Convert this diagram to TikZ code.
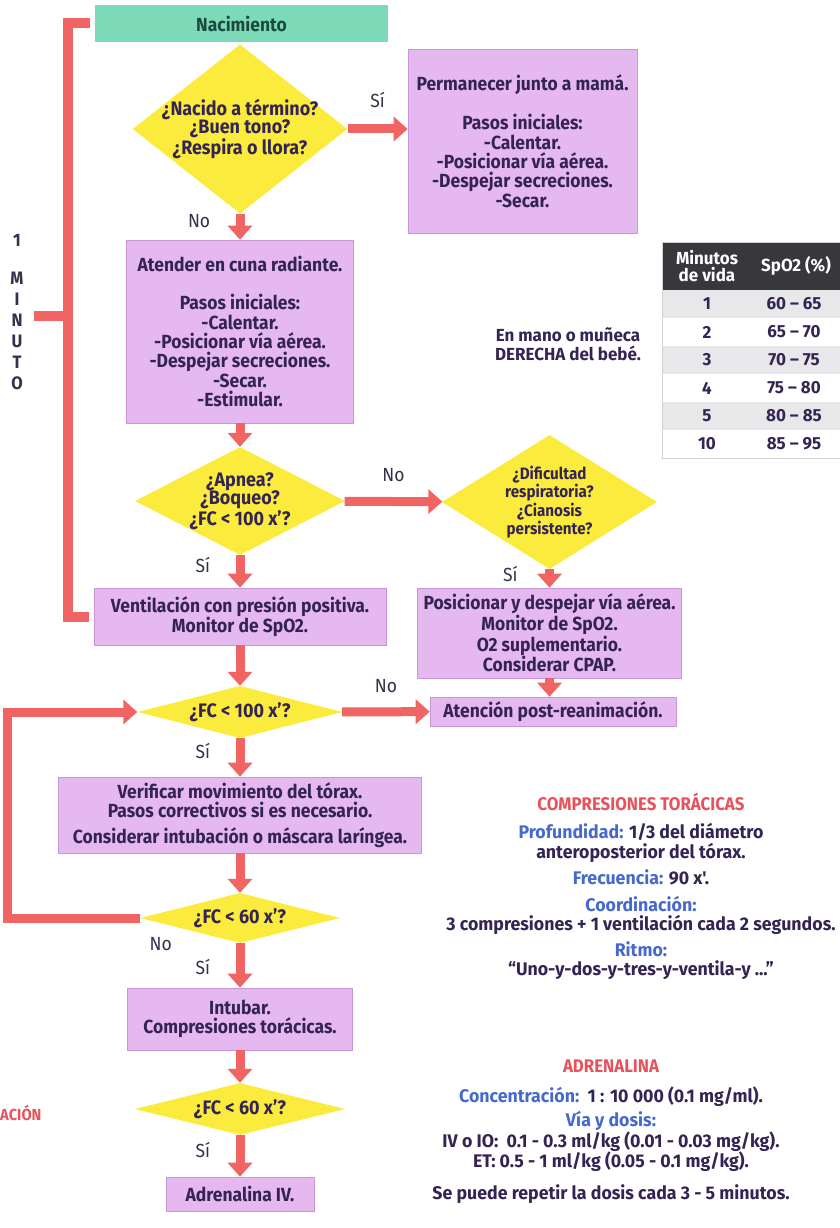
\documentclass[tikz,border=0pt]{standalone}
\usepackage{fontspec}
\setmainfont{Fira Sans}[FakeStretch=0.92]
\newfontfamily\anchafont{Fira Sans}[FakeStretch=0.97]
\usetikzlibrary{shapes.geometric,arrows.meta,positioning}
\definecolor{verde}{RGB}{125,218,185}
\definecolor{verdeosc}{RGB}{25,75,65}
\definecolor{rosa}{RGB}{230,184,240}
\definecolor{borde}{RGB}{200,150,215}
\definecolor{amarillo}{RGB}{250,235,60}
\definecolor{rojo}{RGB}{240,100,100}
\definecolor{tinta}{RGB}{52,36,84}
\definecolor{gris}{RGB}{50,50,75}
\definecolor{azul}{RGB}{70,105,205}
\definecolor{rojotit}{RGB}{232,82,92}
\definecolor{cabeza}{RGB}{55,55,60}
\definecolor{fila}{RGB}{232,232,234}
\newcommand\encabezado[1]{{\rmfamily\bfseries\color{rojotit}#1}}
\newcommand\campo[1]{{\color{azul}#1}}

\begin{document}
\begin{tikzpicture}[x=1pt,y=-1pt,
    caja/.style={rectangle,fill=rosa,draw=borde,line width=0.6pt,text=tinta,align=center,inner sep=0pt,
      font=\bfseries\fontsize{19}{19.3}\selectfont},
    pregunta/.style={diamond,fill=amarillo,text=tinta,align=center,inner sep=-4pt,
      font=\bfseries\fontsize{19.5}{18.5}\selectfont},
    flecha/.style={draw=rojo,line width=9pt,-{Triangle[length=14pt,width=24pt]}},
    etiq/.style={text=gris,font=\mdseries\fontsize{19}{21}\selectfont},
    bajo/.style={etiq,left=22pt,yshift=6pt},
    llave/.style={draw=rojo,line width=10pt},
    info/.style={align=center,text=tinta,font=\anchafont\bfseries\fontsize{18.3}{19.5}\selectfont},
    tabla/.style={text=tinta,align=center,font=\anchafont\bfseries\fontsize{17.5}{17}\selectfont},
  ]
  \fill[white] (0,0) rectangle (840,1228);
  \useasboundingbox (0,0) rectangle (840,1228);

  \node[rectangle,fill=verde,minimum width=293pt,minimum height=37pt,text=verdeosc,
    font=\bfseries\fontsize{19}{21}\selectfont] (nac) at (241.5,23.5) {Nacimiento};
  \node[pregunta,aspect=1.27,minimum width=214pt,minimum height=168pt] (d1) at (240,129)
    {¿Nacido a término?\\¿Buen tono?\\¿Respira o llora?};
  \node[caja,minimum width=229pt,minimum height=184pt] (b2) at (522.5,141)
    {Permanecer junto a mamá.\\[19pt]Pasos iniciales:\\-Calentar.\\-Posicionar vía aérea.\\-Despejar secreciones.\\-Secar.};
  \node[caja,minimum width=227pt,minimum height=183pt] (b3) at (240,331.5)
    {Atender en cuna radiante.\\[19pt]Pasos iniciales:\\-Calentar.\\-Posicionar vía aérea.\\-Despejar secreciones.\\-Secar.\\-Estimular.};
  \node[pregunta,aspect=1.94,minimum width=210pt,minimum height=108pt] (d2) at (240,501)
    {¿Apnea?\\¿Boqueo?\\¿FC < 100 x'?};
  \node[pregunta,aspect=1.6,minimum width=215pt,minimum height=134pt,font=\bfseries\fontsize{16.5}{18.5}\selectfont] (d3) at (549.5,502)
    {¿Dificultad\\respiratoria?\\¿Cianosis\\persistente?};
  \node[caja,minimum width=292pt,minimum height=57pt] (b4) at (240,616.5)
    {Ventilación con presión positiva.\\Monitor de SpO2.};
  \node[caja,minimum width=264pt,minimum height=90pt] (b5) at (549.5,633)
    {Posicionar y despejar vía aérea.\\Monitor de SpO2.\\O2 suplementario.\\Considerar CPAP.};
  \node[caja,minimum width=246pt,minimum height=29pt] (b6) at (553,711.5) {Atención post-reanimación.};
  \node[pregunta,aspect=3.9,minimum width=205pt,minimum height=52pt] (d4) at (240,712) {¿FC < 100 x'?};
  \node[caja,minimum width=363pt,minimum height=76pt] (b7) at (240,815)
    {Verificar movimiento del tórax.\\Pasos correctivos si es necesario.\\[6pt]Considerar intubación o máscara laríngea.};
  \node[pregunta,aspect=4,minimum width=200pt,minimum height=50pt] (d5) at (240,918) {¿FC < 60 x'?};
  \node[caja,minimum width=225pt,minimum height=62pt] (b8) at (240,1019) {Intubar.\\Compresiones torácicas.};
  \node[pregunta,aspect=4,minimum width=210pt,minimum height=52pt] (d6) at (240,1109) {¿FC < 60 x'?};
  \node[caja,minimum width=148pt,minimum height=34pt] (b9) at (240,1194) {Adrenalina IV.};

  \path (d1.east) edge[flecha] node[etiq,above=13pt] {Sí} (d1.east -| b2.west)
        (d1) edge[flecha] node[bajo] {No} (b3)
        (b3) edge[flecha] (d2)
        (d2) edge[flecha] node[etiq,above=12pt] {No} (d3)
        (d2) edge[flecha] node[bajo] {Sí} (b4)
        (d3) edge[flecha] node[bajo,left=24pt,yshift=-2pt] {Sí} (b5)
        (b4) edge[flecha] (d4)
        (b5.south) edge[flecha] (b5.south |- b6.north)
        (d4) edge[flecha] node[etiq,above=11pt] {No} (b6)
        (d4) edge[flecha] node[bajo] {Sí} (b7)
        (b7) edge[flecha] (d5)
        (d5) edge[flecha] node[bajo,yshift=-8pt] {Sí} (b8)
        (b8) edge[flecha] (d6)
        (d6) edge[flecha] node[bajo] {Sí} (b9);

  \coordinate (lazo) at (7,0);
  \draw[flecha] (d5.west) node[etiq,below right=12pt and 2pt] {No} -- (d5.west -| lazo) |- (d4.west);

  \coordinate (llv) at (68,316);
  \draw[llave] ([xshift=-5pt]nac.west) -| (llv) |- ([xshift=-5pt]b4.west);
  \draw[llave] (llv) -- ++(-34,0);
  \node[text=gris,font=\bfseries\fontsize{18}{21}\selectfont] (uno) at (17,240) {1};
  \node[text=gris,align=center,font=\bfseries\fontsize{18}{21}\selectfont] (minuto) at (17,331) {M\\I\\N\\U\\T\\O};

  \node[text=tinta,align=center,font=\anchafont\bfseries\fontsize{17.5}{19}\selectfont] (mano) at (568,344)
    {En mano o muñeca\\DERECHA del bebé.};

  \fill[cabeza] (662,242) rectangle (840,290);
  \foreach \i in {0,2,4}
    \fill[fila] (662,{290+28*\i}) rectangle (840,{318+28*\i});
  \draw[gray!35] (662,242) rectangle (840,458);
  \node[tabla,text=white] (tmin) at (707,266) {Minutos\\de vida};
  \node[tabla,text=white] (tspo) at (796,266) {SpO2 (\%)};
  \foreach \m/\s [count=\k] in {1/60 – 65,2/65 – 70,3/70 – 75,4/75 – 80,5/80 – 85,10/85 – 95} {
    \node[tabla] (m\k) at (707,{276+28*\k}) {\m};
    \node[tabla] (s\k) at (794,{276+28*\k}) {\s};
  }

  \node[info,anchor=north] (comp) at (641,789)
    {\encabezado{COMPRESIONES TORÁCICAS}\\[9pt]
     \campo{Profundidad:} 1/3 del diámetro\\
     anteroposterior del tórax.\\[7pt]
     \campo{Frecuencia:} 90 x'.\\[7pt]
     \campo{Coordinación:}\\
     3 compresiones + 1 ventilación cada 2 segundos.\\[6pt]
     \campo{Ritmo:}\\
     “Uno-y-dos-y-tres-y-ventila-y ...”};

  \node[info,anchor=north] (adre) at (611,1056)
    {\encabezado{ADRENALINA}\\[11pt]
     \campo{Concentración:}\ \ 1 : 10 000 (0.1 mg/ml).\\[4pt]
     \campo{Vía y dosis:}\\
     IV o IO:\ \ 0.1 - 0.3 ml/kg (0.01 - 0.03 mg/kg).\\
     ET: 0.5 - 1 ml/kg (0.05 - 0.1 mg/kg).\\[12pt]
     Se puede repetir la dosis cada 3 - 5 minutos.};

  \node[anchor=west,inner sep=0pt,text=rojotit,font=\bfseries\fontsize{16}{19}\selectfont] (acion) at (0,1113) {ACIÓN};
\end{tikzpicture}
\end{document}
